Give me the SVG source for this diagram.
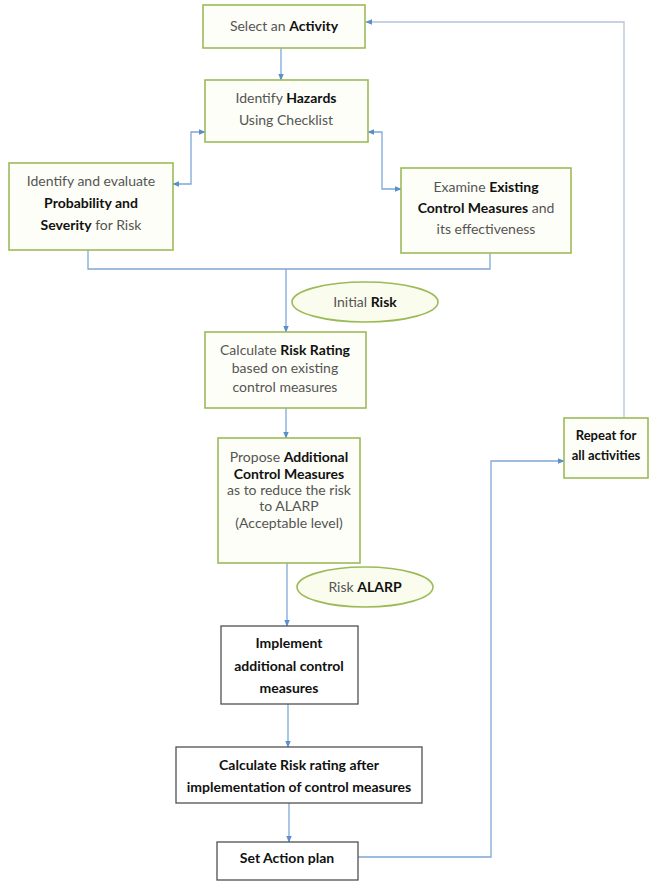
<svg xmlns="http://www.w3.org/2000/svg" width="651" height="890" viewBox="0 0 651 890">
<defs>
<style>
.g{fill:#fdfef7;stroke:#9bbb59;stroke-width:1.6}
.k{fill:#ffffff;stroke:#505050;stroke-width:1.3}
.e{fill:#fafcee;stroke:#9bbb59;stroke-width:1.6}
.c{fill:none;stroke:#7fa7d6;stroke-width:1.3}
.f{fill:none;stroke:#b4c4d8;stroke-width:1.3}
text{font-family:Lato,"Open Sans","Liberation Sans",sans-serif;font-size:14px;fill:#555;text-anchor:middle}
.b{font-weight:bold;fill:#111}
.s{font-size:13px}
</style>
<marker id="a" viewBox="0 0 10 10" refX="9" refY="5" markerWidth="7" markerHeight="7" orient="auto-start-reverse" markerUnits="userSpaceOnUse">
<path d="M0,1 L10,5 L0,9 z" fill="#5b8fcc"/>
</marker>
</defs>

<g id="connectors">
<line class="c" x1="281" y1="48" x2="281" y2="80" marker-end="url(#a)"/>
<polyline class="c" points="205,132 191,132 191,184 173,184" marker-start="url(#a)" marker-end="url(#a)"/>
<polyline class="c" points="368,132 382,132 382,189 401,189" marker-start="url(#a)" marker-end="url(#a)"/>
<polyline class="c" points="88,250 88,269 490,269 490,253"/>
<line class="c" x1="286" y1="269" x2="286" y2="332" marker-end="url(#a)"/>
<line class="c" x1="286" y1="408" x2="286" y2="438" marker-end="url(#a)"/>
<line class="c" x1="287" y1="563" x2="287" y2="626" marker-end="url(#a)"/>
<line class="c" x1="288" y1="704" x2="288" y2="747" marker-end="url(#a)"/>
<line class="c" x1="289" y1="803" x2="289" y2="842" marker-end="url(#a)"/>
<polyline class="c" points="358,857 491,857 491,461 564,461" marker-end="url(#a)"/>
<polyline class="f" points="624,418 624,22 366,22" marker-end="url(#a)"/>
</g>

<g id="select-activity">
<rect class="g" x="203" y="5" width="162" height="43"/>
<text x="284" y="31">Select an <tspan class="b">Activity</tspan></text>
</g>

<g id="identify-hazards">
<rect class="g" x="205" y="80" width="163" height="62"/>
<text x="286" y="103">Identify <tspan class="b">Hazards</tspan></text>
<text x="286" y="125">Using Checklist</text>
</g>

<g id="probability-severity">
<rect class="g" x="9" y="163" width="164" height="87"/>
<text x="91" y="186">Identify and evaluate</text>
<text x="91" y="208" class="b">Probability and</text>
<text x="91" y="230"><tspan class="b">Severity</tspan> for Risk</text>
</g>

<g id="existing-controls">
<rect class="g" x="401" y="168" width="170" height="85"/>
<text x="486" y="192">Examine <tspan class="b">Existing</tspan></text>
<text x="486" y="213"><tspan class="b">Control Measures</tspan> and</text>
<text x="486" y="234">its effectiveness</text>
</g>

<g id="initial-risk">
<ellipse class="e" cx="365" cy="302" rx="73" ry="20"/>
<text x="365" y="307">Initial <tspan class="b">Risk</tspan></text>
</g>

<g id="calculate-risk-rating">
<rect class="g" x="205" y="332" width="161" height="76"/>
<text x="285" y="355">Calculate <tspan class="b">Risk Rating</tspan></text>
<text x="285" y="373">based on existing</text>
<text x="285" y="392">control measures</text>
</g>

<g id="propose-additional">
<rect class="g" x="218" y="438" width="142" height="125"/>
<text x="289" y="462">Propose <tspan class="b">Additional</tspan></text>
<text x="289" y="479" class="b">Control Measures</text>
<text x="289" y="495">as to reduce the risk</text>
<text x="289" y="511">to ALARP</text>
<text x="289" y="528">(Acceptable level)</text>
</g>

<g id="risk-alarp">
<ellipse class="e" cx="365" cy="587" rx="68" ry="20"/>
<text x="365" y="592">Risk <tspan class="b">ALARP</tspan></text>
</g>

<g id="implement">
<rect class="k" x="221" y="626" width="137" height="78"/>
<text x="289" y="648" class="b">Implement</text>
<text x="289" y="671" class="b">additional control</text>
<text x="289" y="693" class="b">measures</text>
</g>

<g id="calculate-after">
<rect class="k" x="176" y="747" width="246" height="56"/>
<text x="299" y="770" class="b">Calculate Risk rating after</text>
<text x="299" y="792" class="b">implementation of control measures</text>
</g>

<g id="set-action-plan">
<rect class="k" x="217" y="842" width="141" height="38"/>
<text x="287" y="863" class="b">Set Action plan</text>
</g>

<g id="repeat">
<rect class="g" x="564" y="418" width="84" height="60"/>
<text x="606" y="440" class="b s">Repeat for</text>
<text x="606" y="460" class="b s">all activities</text>
</g>
</svg>
